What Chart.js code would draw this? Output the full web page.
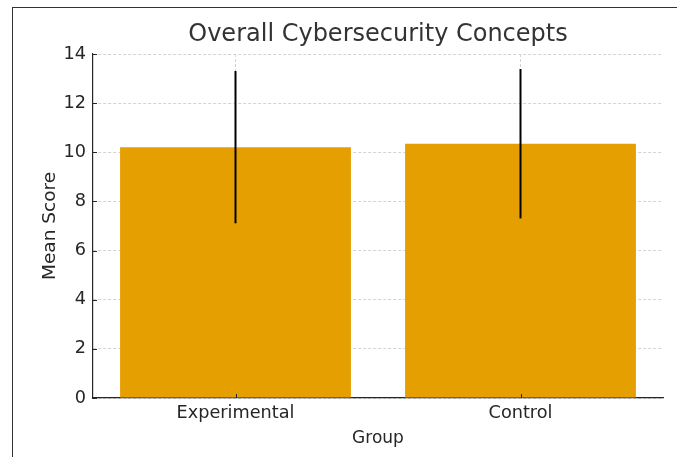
<!DOCTYPE html>
<html>
<head>
<meta charset="utf-8">
<script src="https://cdn.jsdelivr.net/npm/chart.js@4"></script>
<style>
    body { margin: 0; background: #fff; }
    #wrap { position: relative; width: 677px; height: 457px; }
    #frame {
        position: absolute; left: 12px; top: 7px; right: 0; bottom: 0;
        border-top: 1px solid #333; border-left: 1px solid #333;
        pointer-events: none;
    }
</style>
</head>
<body>
<div id="wrap">
    <canvas id="chart" width="677" height="457"></canvas>
    <div id="frame"></div>
</div>
<script>
const groups = ["Experimental", "Control"];
const meanScores = [10.21, 10.35];
const stdDevs = [3.1, 3.04];
const yTicks = [0, 2, 4, 6, 8, 10, 12, 14];
const chartTitle = "Overall Cybersecurity Concepts";

const BAR_COLOR = "#E69F00";
const TEXT_COLOR = "#262626";
const FONT = "'DejaVu Sans', sans-serif";

// title centred over the plot, error bars + inward tick marks on top (matplotlib style)
const extras = {
    id: "extras",
    afterDraw(chart) {
        const ctx = chart.ctx;
        const x = chart.scales.x;
        const y = chart.scales.y;
        const area = chart.chartArea;
        ctx.save();

        ctx.fillStyle = "#333";
        ctx.font = "24px " + FONT;
        ctx.textAlign = "center";
        ctx.textBaseline = "middle";
        ctx.fillText(chartTitle, (area.left + area.right) / 2, 35);

        ctx.strokeStyle = "#000";
        ctx.lineWidth = 2;
        meanScores.forEach((m, i) => {
            const px = x.getPixelForValue(i);
            ctx.beginPath();
            ctx.moveTo(px, y.getPixelForValue(m - stdDevs[i]));
            ctx.lineTo(px, y.getPixelForValue(m + stdDevs[i]));
            ctx.stroke();
        });

        ctx.strokeStyle = "#262626";
        ctx.lineWidth = 1;
        yTicks.forEach((v) => {
            const py = Math.round(y.getPixelForValue(v)) + 0.5;
            ctx.beginPath();
            ctx.moveTo(area.left, py);
            ctx.lineTo(area.left + 4, py);
            ctx.stroke();
        });
        groups.forEach((g, i) => {
            const px = Math.round(x.getPixelForValue(i)) + 0.5;
            ctx.beginPath();
            ctx.moveTo(px, area.bottom);
            ctx.lineTo(px, area.bottom - 4);
            ctx.stroke();
        });
        ctx.restore();
    },
};

new Chart(document.getElementById("chart"), {
    type: "bar",
    data: {
        labels: groups,
        datasets: [
            {
                label: "Mean Score",
                data: meanScores,
                backgroundColor: BAR_COLOR,
                borderWidth: 0,
                barPercentage: 1,
                categoryPercentage: 0.81,
            },
        ],
    },
    options: {
        responsive: false,
        animation: false,
        layout: { padding: { left: 35, right: 14, top: 54, bottom: 4 } },
        plugins: {
            legend: { display: false },
            tooltip: { enabled: false },
            title: { display: false },
        },
        scales: {
            x: {
                z: 1,
                offset: true,
                grid: {
                    offset: false,
                    color: "#d3d3d3",
                    drawTicks: false,
                },
                border: { display: true, color: "#262626", width: 1.2, dash: [3, 2] },
                ticks: {
                    color: TEXT_COLOR,
                    padding: 5,
                    font: { family: FONT, size: 17.7, lineHeight: 1.2 },
                },
                title: {
                    display: true,
                    text: "Group",
                    color: TEXT_COLOR,
                    font: { family: FONT, size: 17, lineHeight: 1.2 },
                },
                afterFit(scale) { scale.height = 55; },
            },
            y: {
                z: 1,
                min: 0,
                max: 14,
                grid: {
                    color: "#d3d3d3",
                    drawTicks: false,
                },
                border: { display: true, color: "#262626", width: 1.2, dash: [3, 2] },
                ticks: {
                    stepSize: 2,
                    color: TEXT_COLOR,
                    padding: 7,
                    font: { family: FONT, size: 17.7, lineHeight: 1.2 },
                },
                afterBuildTicks(scale) {
                    scale.ticks = yTicks.map((v) => ({ value: v }));
                },
                title: {
                    display: true,
                    text: "Mean Score",
                    color: TEXT_COLOR,
                    font: { family: FONT, size: 18.5, lineHeight: 1.2 },
                },
                afterFit(scale) { scale.width = 58; },
            },
        },
    },
    plugins: [extras],
});
</script>
</body>
</html>
